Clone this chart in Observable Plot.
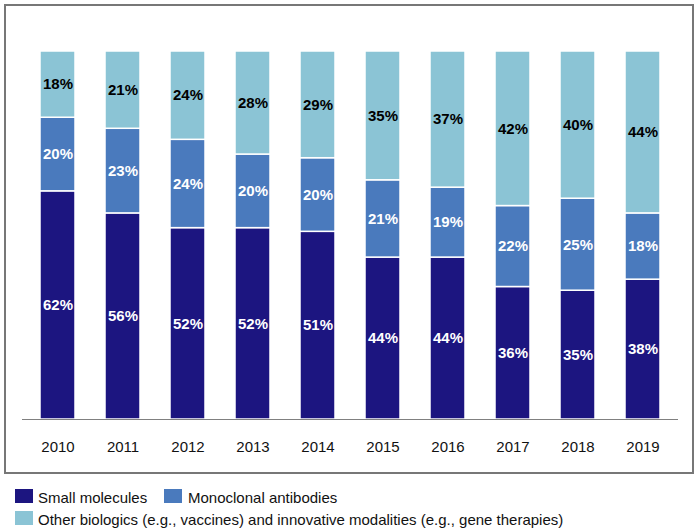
<!DOCTYPE html>
<html>
<head>
<meta charset="utf-8">
<script src="https://cdn.jsdelivr.net/npm/d3@7"></script>
<script src="https://cdn.jsdelivr.net/npm/@observablehq/plot@0.6"></script>
<style>
  html, body { margin: 0; padding: 0; background: #fff; }
  body { width: 700px; height: 532px; position: relative; font-family: "Liberation Sans", Arial, sans-serif; }
  #box { position: absolute; left: 4px; top: 4px; width: 686px; height: 466px; border: 2px solid #777777; }
  #box svg { display: block; }
  .leg { position: absolute; font-size: 15px; color: #111; white-space: nowrap; line-height: 15px; }
  .sw { position: absolute; width: 18px; height: 14px; }
</style>
</head>
<body>
<div id="box"></div>
<div id="legend"></div>
<script>
const years = ["2010","2011","2012","2013","2014","2015","2016","2017","2018","2019"];
const seriesNames = ["Small molecules", "Monoclonal antibodies", "Other biologics (e.g., vaccines) and innovative modalities (e.g., gene therapies)"];
const smallMolecules = [62, 56, 52, 52, 51, 44, 44, 36, 35, 38];
const monoclonalAntibodies = [20, 23, 24, 20, 20, 21, 19, 22, 25, 18];
const otherBiologics = [18, 21, 24, 28, 29, 35, 37, 42, 40, 44];
const colors = ["#1c1580", "#4a7abd", "#8bc4d5"];

const seriesValues = [smallMolecules, monoclonalAntibodies, otherBiologics];
const data = [];
years.forEach((y, i) => {
  seriesValues.forEach((vals, s) => {
    data.push({year: y, type: seriesNames[s], value: vals[i], idx: s});
  });
});

const labelOpts = {x: "year", y: "value", z: "type", text: d => d.value + "%", fontWeight: "bold", fontSize: 15};

const chart = Plot.plot({
  width: 686,
  height: 466,
  marginTop: 45,
  marginBottom: 53,
  marginLeft: 16,
  marginRight: 14,
  style: {fontFamily: "'Liberation Sans', Arial, sans-serif", fontSize: "15px", color: "#111", background: "white"},
  x: {domain: years, paddingInner: 0.467, paddingOuter: 0.2335, label: null, tickSize: 0, tickPadding: 22},
  y: {domain: [0, 100], axis: null},
  color: {domain: seriesNames, range: colors},
  marks: [
    Plot.barY(data, {x: "year", y: "value", fill: "type", z: "type", stroke: "white", strokeWidth: 1.5}),
    Plot.ruleY([0], {stroke: "#808080", strokeWidth: 1.2}),
    Plot.text(data, Plot.filter(d => d.idx < 2, Plot.stackY({...labelOpts, fill: "white"}))),
    Plot.text(data, Plot.filter(d => d.idx === 2, Plot.stackY({...labelOpts, fill: "black"})))
  ]
});
document.getElementById("box").appendChild(chart);

const legend = document.getElementById("legend");
const items = [
  {sw: [15, 489], tx: [38, 490]},
  {sw: [164, 489], tx: [188, 490]},
  {sw: [15, 511], tx: [38, 512]}
];
items.forEach((it, i) => {
  const s = document.createElement("div");
  s.className = "sw";
  s.style.left = it.sw[0] + "px";
  s.style.top = it.sw[1] + "px";
  s.style.background = colors[i];
  legend.appendChild(s);
  const t = document.createElement("div");
  t.className = "leg";
  t.style.left = it.tx[0] + "px";
  t.style.top = it.tx[1] + "px";
  t.textContent = seriesNames[i];
  legend.appendChild(t);
});
</script>
</body>
</html>
